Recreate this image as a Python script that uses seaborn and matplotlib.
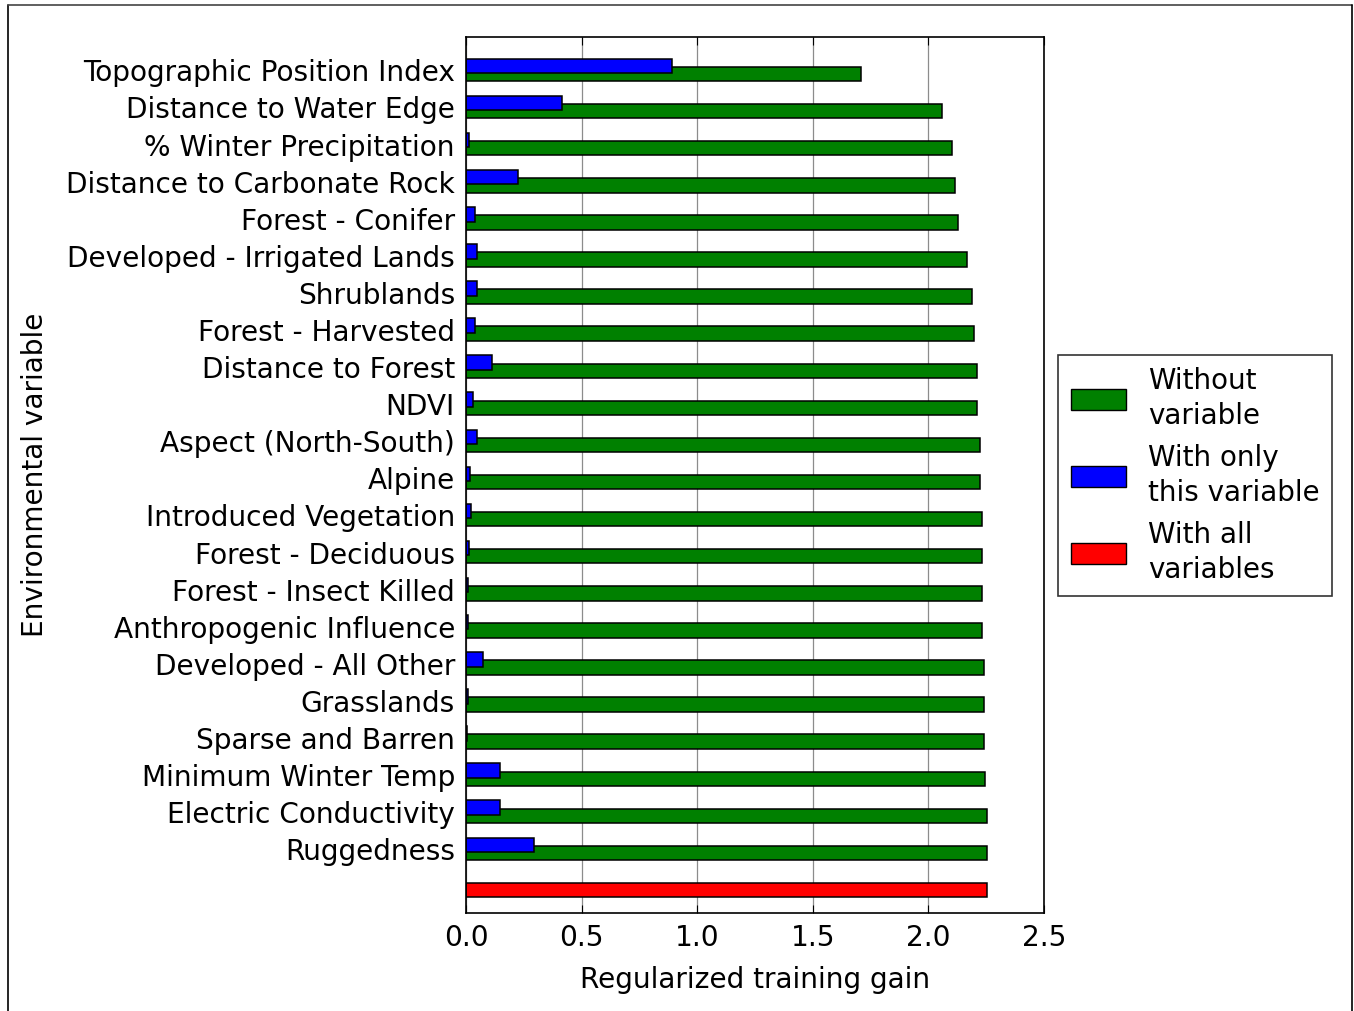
import numpy as np
import pandas as pd
import matplotlib
matplotlib.use("Agg")
import matplotlib.pyplot as plt
import seaborn as sns
from matplotlib.patches import Patch

# ---- data (top to bottom as in the chart) ----
variables = [
    "Topographic Position Index", "Distance to Water Edge", "% Winter Precipitation",
    "Distance to Carbonate Rock", "Forest - Conifer", "Developed - Irrigated Lands",
    "Shrublands", "Forest - Harvested", "Distance to Forest", "NDVI",
    "Aspect (North-South)", "Alpine", "Introduced Vegetation", "Forest - Deciduous",
    "Forest - Insect Killed", "Anthropogenic Influence", "Developed - All Other",
    "Grasslands", "Sparse and Barren", "Minimum Winter Temp",
    "Electric Conductivity", "Ruggedness",
]
without_variable = [
    1.709, 2.057, 2.102, 2.115, 2.129, 2.167, 2.189, 2.196, 2.209, 2.209,
    2.223, 2.223, 2.232, 2.232, 2.232, 2.232, 2.239, 2.239, 2.239, 2.245,
    2.252, 2.252,
]
only_variable = [
    0.889, 0.417, 0.015, 0.227, 0.039, 0.048, 0.048, 0.039, 0.111, 0.031,
    0.046, 0.017, 0.022, 0.015, 0.009, 0.007, 0.075, 0.010, 0.003, 0.147,
    0.147, 0.292,
]
all_variables = [2.252]
legend_labels = ["Without\nvariable", "With only\nthis variable", "With all\nvariables"]
xticks = [0.0, 0.5, 1.0, 1.5, 2.0, 2.5]

n = len(variables)
pos = np.arange(n, 0, -1).astype(float)  # top row highest
df_green = pd.DataFrame({"gain": without_variable, "pos": pos})
df_blue = pd.DataFrame({"gain": only_variable, "pos": pos + 0.22})
df_red = pd.DataFrame({"gain": all_variables, "pos": [0.0]})

sns.set_style("white")
plt.rcParams["font.family"] = ["DejaVu Sans"]
for k in ["text.color", "axes.labelcolor", "xtick.color", "ytick.color"]:
    plt.rcParams[k] = "black"

FS = 20.2

fig = plt.figure(figsize=(13.54, 10.11), dpi=100)
ax = fig.add_axes([466 / 1354, 1 - 913 / 1011, (1044 - 466) / 1354, (913 - 37) / 1011])

ax.grid(axis="x", color="#8c8c8c", linewidth=0.9, linestyle="-")
ax.set_axisbelow(True)

kw = dict(orient="h", native_scale=True, width=0.39, edgecolor="black",
          linewidth=1.1, errorbar=None, ax=ax)
sns.barplot(data=df_green, x="gain", y="pos", color="#008000", saturation=1, **kw)
sns.barplot(data=df_blue, x="gain", y="pos", color="#0000ff", saturation=1, **kw)
sns.barplot(data=df_red, x="gain", y="pos", color="#ff0000", saturation=1, **kw)

ax.set_xlim(0, 2.5)
ax.set_ylim(-0.62, n + 1)
ax.set_xticks(xticks)
ax.set_xticklabels([f"{t:.1f}" for t in xticks], fontsize=FS)
ax.set_yticks(pos + 0.1)
ax.set_yticklabels(variables, fontsize=FS)
ax.tick_params(axis="x", direction="in", length=6, top=True, bottom=True, pad=8, color="black")
ax.tick_params(axis="y", length=0, pad=8)
ax.set_xlabel("Regularized training gain", fontsize=FS, labelpad=10)
ax.set_ylabel("Environmental variable", fontsize=FS, labelpad=12)
for s in ax.spines.values():
    s.set_visible(True)
    s.set_color("black")
    s.set_linewidth(1.2)

handles = [Patch(facecolor=c, edgecolor="black") for c in ["#008000", "#0000ff", "#ff0000"]]
leg = fig.legend(handles, legend_labels, loc="center left",
                 bbox_to_anchor=(1058 / 1354, 1 - 475.5 / 1011), fontsize=20,
                 fancybox=False, frameon=True, edgecolor="black",
                 handlelength=2.0, handleheight=0.78, labelspacing=0.5,
                 borderpad=0.45, handletextpad=0.8, borderaxespad=0)
leg.get_frame().set_linewidth(1.2)
for t in leg.get_texts():
    t.set_linespacing(1.32)

# outer frame lines
fig.add_artist(plt.Line2D([8 / 1354, 8 / 1354], [0, 1 - 5 / 1011], color="black", lw=1.2,
                          transform=fig.transFigure))
fig.add_artist(plt.Line2D([8 / 1354, 1352 / 1354], [1 - 5 / 1011, 1 - 5 / 1011], color="#444444",
                          lw=1.2, transform=fig.transFigure))
fig.add_artist(plt.Line2D([1352 / 1354, 1352 / 1354], [0, 1 - 5 / 1011], color="black", lw=1.2,
                          transform=fig.transFigure))

fig.savefig("out.png", dpi=100, facecolor="white")
